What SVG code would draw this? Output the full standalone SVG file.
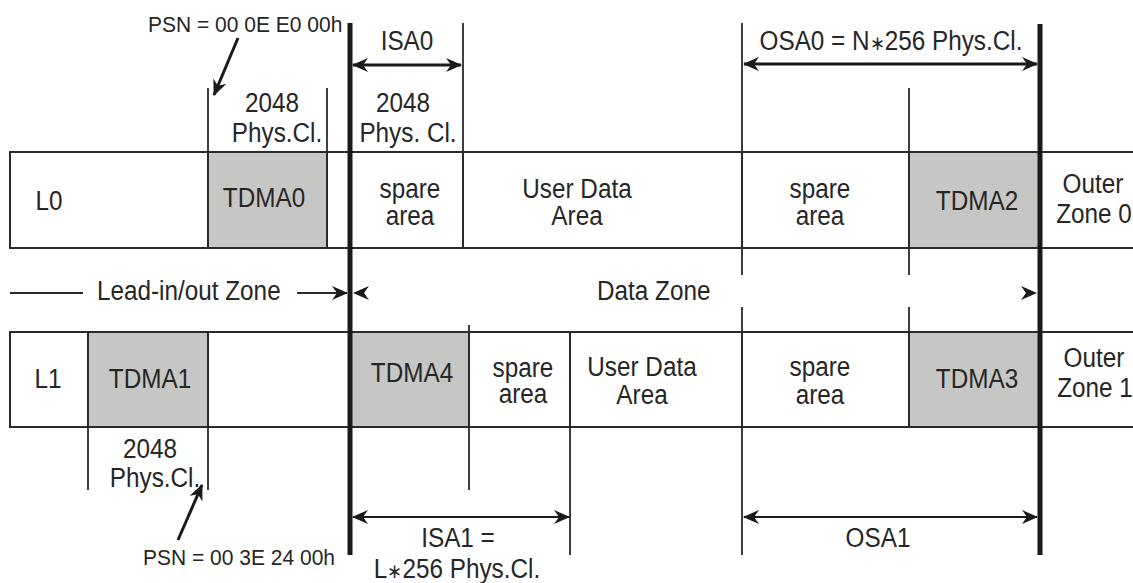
<svg xmlns="http://www.w3.org/2000/svg" width="1133" height="583" viewBox="0 0 1133 583">
<defs>
<style>
.cell{fill:#ffffff;stroke:#2a2a2a;stroke-width:2}
.tdma{fill:#c6c6c4;stroke:#2a2a2a;stroke-width:2}
.ln{stroke:#2a2a2a;stroke-width:1.8;fill:none}
.thick{stroke:#1a1a1a;stroke-width:5;fill:none}
.dim{stroke:#1a1a1a;stroke-width:3;fill:none}
.dim2{stroke:#1a1a1a;stroke-width:2;fill:none}
.head{fill:#1a1a1a}
.t{font-family:"Liberation Sans",Arial,Helvetica,sans-serif;font-size:27px;fill:#262626;text-anchor:middle}
.s{font-size:22px;text-anchor:start}
.st{text-anchor:start}
.ast{font-size:20px}
</style>
<marker id="ah" viewBox="0 0 16 14" refX="15" refY="7" markerWidth="16" markerHeight="14" markerUnits="userSpaceOnUse" orient="auto-start-reverse">
<path d="M0,0 L16,7 L0,14 L5,7 Z" fill="#1a1a1a"/>
</marker>
</defs>
<rect width="1133" height="583" fill="#ffffff"/>

<!-- Layer L0 -->
<g id="l0-label"><rect class="cell" x="10" y="152" width="198" height="96"/><text class="t" transform="matrix(.9 0 0 1 49 210)">L0</text></g>
<g id="tdma0"><rect class="tdma" x="208" y="152" width="119" height="96"/><text class="t" transform="matrix(.9 0 0 1 264 207)">TDMA0</text></g>
<g id="l0-gap"><rect class="cell" x="327" y="152" width="23" height="96"/></g>
<g id="l0-spare-inner"><rect class="cell" x="350" y="152" width="113" height="96"/><text class="t" transform="matrix(.9 0 0 1 410 198)">spare</text><text class="t" transform="matrix(.9 0 0 1 410 225)">area</text></g>
<g id="l0-user-data"><rect class="cell" x="463" y="152" width="279" height="96"/><text class="t" transform="matrix(.9 0 0 1 577 198)">User Data</text><text class="t" transform="matrix(.9 0 0 1 577 225)">Area</text></g>
<g id="l0-spare-outer"><rect class="cell" x="742" y="152" width="167" height="96"/><text class="t" transform="matrix(.9 0 0 1 820 198)">spare</text><text class="t" transform="matrix(.9 0 0 1 820 225)">area</text></g>
<g id="tdma2"><rect class="tdma" x="909" y="152" width="131" height="96"/><text class="t" transform="matrix(.9 0 0 1 977 210)">TDMA2</text></g>
<g id="outer-zone0"><rect class="cell" x="1040" y="152" width="110" height="96"/><text class="t" transform="matrix(.9 0 0 1 1093 193)">Outer</text><text class="t" transform="matrix(.9 0 0 1 1094 223)">Zone 0</text></g>

<!-- Layer L1 -->
<g id="l1-label"><rect class="cell" x="10" y="332" width="78" height="95"/><text class="t" transform="matrix(.9 0 0 1 48 388)">L1</text></g>
<g id="tdma1"><rect class="tdma" x="88" y="332" width="120" height="95"/><text class="t" transform="matrix(.9 0 0 1 150 388)">TDMA1</text></g>
<g id="l1-gap"><rect class="cell" x="208" y="332" width="142" height="95"/></g>
<g id="tdma4"><rect class="tdma" x="350" y="332" width="119" height="95"/><text class="t" transform="matrix(.9 0 0 1 412 382)">TDMA4</text></g>
<g id="l1-spare-inner"><rect class="cell" x="469" y="332" width="101" height="95"/><text class="t" transform="matrix(.9 0 0 1 523 377)">spare</text><text class="t" transform="matrix(.9 0 0 1 523 403)">area</text></g>
<g id="l1-user-data"><rect class="cell" x="570" y="332" width="172" height="95"/><text class="t" transform="matrix(.9 0 0 1 642 376)">User Data</text><text class="t" transform="matrix(.9 0 0 1 642 404)">Area</text></g>
<g id="l1-spare-outer"><rect class="cell" x="742" y="332" width="167" height="95"/><text class="t" transform="matrix(.9 0 0 1 820 376)">spare</text><text class="t" transform="matrix(.9 0 0 1 820 404)">area</text></g>
<g id="tdma3"><rect class="tdma" x="909" y="332" width="131" height="95"/><text class="t" transform="matrix(.9 0 0 1 977 388)">TDMA3</text></g>
<g id="outer-zone1"><rect class="cell" x="1040" y="332" width="110" height="95"/><text class="t" transform="matrix(.9 0 0 1 1094 367)">Outer</text><text class="t" transform="matrix(.9 0 0 1 1095 397)">Zone 1</text></g>

<!-- Annotation labels -->
<g id="psn-top"><text class="t s" transform="matrix(.955 0 0 1 148 32)">PSN = 00 0E E0 00h</text></g>
<g id="tdma0-size"><text class="t" transform="matrix(.9 0 0 1 272 112)">2048</text><text class="t" transform="matrix(.9 0 0 1 277 142)">Phys.Cl.</text></g>
<g id="isa0-label"><text class="t" transform="matrix(.9 0 0 1 407 50)">ISA0</text></g>
<g id="isa0-size"><text class="t" transform="matrix(.9 0 0 1 403 112)">2048</text><text class="t" transform="matrix(.9 0 0 1 408 142)">Phys. Cl.</text></g>
<g id="osa0-label"><text class="t" transform="matrix(.9 0 0 1 891 50)">OSA0 = N<tspan class="ast">∗</tspan>256 Phys.Cl.</text></g>
<g id="lead-zone"><text class="t st" transform="matrix(.9 0 0 1 97 300)">Lead-in/out Zone</text></g>
<g id="data-zone"><text class="t st" transform="matrix(.9 0 0 1 597 300)">Data Zone</text></g>
<g id="tdma1-size"><text class="t" transform="matrix(.9 0 0 1 150 458)">2048</text><text class="t" transform="matrix(.9 0 0 1 155 487)">Phys.Cl.</text></g>
<g id="psn-bottom"><text class="t s" transform="matrix(.955 0 0 1 143 565)">PSN = 00 3E 24 00h</text></g>
<g id="isa1-label"><text class="t" transform="matrix(.9 0 0 1 458 547)">ISA1 =</text><text class="t" transform="matrix(.9 0 0 1 457 578)">L<tspan class="ast">∗</tspan>256 Phys.Cl.</text></g>
<g id="osa1-label"><text class="t" transform="matrix(.9 0 0 1 878 547)">OSA1</text></g>

<!-- Connectors -->
<g id="connectors">
  <line class="ln" x1="208" y1="88" x2="208" y2="152"/>
  <line class="ln" x1="327" y1="88" x2="327" y2="152"/>
  <line class="ln" x1="463" y1="23" x2="463" y2="152"/>
  <line class="ln" x1="742" y1="23" x2="742" y2="152"/>
  <line class="ln" x1="909" y1="88" x2="909" y2="152"/>
  <line class="ln" x1="742" y1="248" x2="742" y2="275"/>
  <line class="ln" x1="909" y1="248" x2="909" y2="275"/>
  <line class="ln" x1="742" y1="307" x2="742" y2="332"/>
  <line class="ln" x1="909" y1="307" x2="909" y2="332"/>
  <line class="ln" x1="469" y1="325" x2="469" y2="332"/>
  <line class="ln" x1="88" y1="427" x2="88" y2="490"/>
  <line class="ln" x1="208" y1="427" x2="208" y2="490"/>
  <line class="ln" x1="469" y1="427" x2="469" y2="490"/>
  <line class="ln" x1="570" y1="427" x2="570" y2="555"/>
  <line class="ln" x1="742" y1="427" x2="742" y2="555"/>
  <line class="thick" x1="350" y1="23" x2="350" y2="555"/>
  <line class="thick" x1="1040" y1="24" x2="1040" y2="555"/>
  <line class="dim" x1="353" y1="65" x2="461" y2="65" marker-start="url(#ah)" marker-end="url(#ah)"/>
  <line class="dim" x1="744" y1="64" x2="1037" y2="64" marker-start="url(#ah)" marker-end="url(#ah)"/>
  <line class="dim2" x1="353" y1="517" x2="569" y2="517" marker-start="url(#ah)" marker-end="url(#ah)"/>
  <line class="dim2" x1="744" y1="517" x2="1037" y2="517" marker-start="url(#ah)" marker-end="url(#ah)"/>
  <line class="ln" x1="10" y1="293" x2="83" y2="293"/>
  <line class="ln" x1="297" y1="293" x2="347" y2="293" marker-end="url(#ah)"/>
  <path class="head" d="M353,293 L369,286 L364,293 L369,300 Z"/>
  <path class="head" d="M1037,293 L1021,286 L1026,293 L1021,300 Z"/>
  <line class="dim" x1="238" y1="38" x2="214" y2="95" marker-end="url(#ah)"/>
  <line class="dim" x1="178" y1="540" x2="202" y2="485" marker-end="url(#ah)"/>
</g>
</svg>
